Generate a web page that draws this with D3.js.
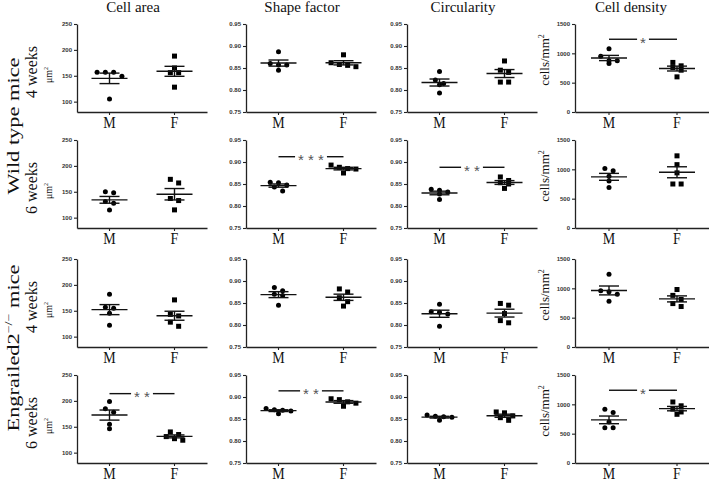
<!DOCTYPE html>
<html>
<head>
<meta charset="utf-8">
<script src="https://cdn.jsdelivr.net/npm/d3@7"></script>
<style>
body{margin:0;background:#fff}
svg{display:block;background:#fff}
</style>
</head>
<body>
<svg id="fig"></svg>
<script>
// chart data
var measures=["Cell area","Shape factor","Circularity","Cell density"]
var ages=["4 weeks","6 weeks","4 weeks","6 weeks"]
var groups=["Wild type mice","Engrailed2"]
var sexes=["M","F"]
var areaTicks=[100,150,200,250]
var ratioTicks=[0.75,0.80,0.85,0.90,0.95]
var densityTicks=[0,500,1000,1500]

// rows: WT 4 wk, WT 6 wk, En2 4 wk, En2 6 wk
var cellAreaM=[[157,157,157,149,105],[150,148,131,128,115],[182,157,155,145,122],[199,185,178,155,146]]
var cellAreaF=[[188,165,156,156,128],[174,167,137,133,115],[171,143,140,128,120],[140,135,131,127,124]]
var shapeFactorM=[[0.887,0.860,0.857,0.857,0.845],[0.854,0.853,0.848,0.843,0.834],[0.885,0.878,0.870,0.867,0.845],[0.874,0.871,0.870,0.868,0.862]]
var shapeFactorF=[[0.880,0.862,0.858,0.856,0.853],[0.893,0.888,0.885,0.884,0.875],[0.882,0.875,0.862,0.853,0.843],[0.896,0.894,0.889,0.886,0.879]]
var circularityM=[[0.842,0.823,0.815,0.812,0.793],[0.838,0.836,0.832,0.827,0.815],[0.847,0.830,0.829,0.825,0.797],[0.859,0.856,0.855,0.854,0.847]]
var circularityF=[[0.866,0.845,0.840,0.818,0.818],[0.866,0.858,0.853,0.850,0.840],[0.849,0.845,0.826,0.810,0.805],[0.866,0.864,0.857,0.853,0.847]]
var cellDensityM=[[1080,950,872,872,828],[1015,975,880,800,690],[1240,960,940,900,780],[915,860,700,600,600]]
var cellDensityF=[[845,787,759,713,599],[1230,1080,940,750,750],[980,880,810,740,690],[1040,975,920,870,830]]

var sigMarks=[
  {row:0,col:3,level:1240,stars:"*"},
  {row:1,col:1,level:0.912,stars:"***"},
  {row:1,col:2,level:0.888,stars:"**"},
  {row:3,col:0,level:214,stars:"**"},
  {row:3,col:1,level:0.914,stars:"**"},
  {row:3,col:3,level:1240,stars:"*"}
]

var seriesM=[cellAreaM,shapeFactorM,circularityM,cellDensityM]
var seriesF=[cellAreaF,shapeFactorF,circularityF,cellDensityF]
var tickSets=[areaTicks,ratioTicks,ratioTicks,densityTicks]
var domains=[[80,250],[0.75,0.95],[0.75,0.95],[0,1500]]
var formats=[d3.format("d"),d3.format(".2f"),d3.format(".2f"),d3.format("d")]

// layout
var colX=[77,246,407,575]
var colW=[130,130,130,136]
var rowTop=[24,140,259,375]
var plotH=88
var serif='"Liberation Serif","Times New Roman",serif'
var sans='"Liberation Sans",Arial,sans-serif'

var svg=d3.select("#fig").attr("width",709).attr("height",481)

// simple column scatter: spread points that overlap vertically
var swarm=function(vals,y,size)
{
    var pts=vals.map(function(v){return {v:v,py:y(v)}})
        .sort(function(a,b){return a.py-b.py})
    var clusters=[],cur=null
    pts.forEach(function(p){
        if(cur && p.py-cur[0].py<size){cur.push(p)}
        else{cur=[p];clusters.push(cur)}
    })
    clusters.forEach(function(c){
        c.forEach(function(p,j){p.dx=(j-(c.length-1)/2)*size*1.8})
    })
    return pts
}

var drawGroup=function(g,vals,cx,y,shape)
{
    var pts=swarm(vals,y,4.6)
    if(shape=="circle"){
        g.selectAll(null).data(pts).enter().append("circle")
        .attr("cx",function(p){return cx+p.dx})
        .attr("cy",function(p){return p.py})
        .attr("r",2.5)
        .attr("fill","#000")
    } else {
        g.selectAll(null).data(pts).enter().append("rect")
        .attr("x",function(p){return cx+p.dx-2.5})
        .attr("y",function(p){return p.py-2.5})
        .attr("width",5).attr("height",5)
        .attr("fill","#000")
    }
    var m=d3.mean(vals)
    var sem=d3.deviation(vals)/Math.sqrt(vals.length)
    var ln=g.append("g").attr("stroke","#111").attr("stroke-width",1.4)
    ln.append("line").attr("x1",cx-18).attr("x2",cx+18).attr("y1",y(m)).attr("y2",y(m))
    ln.append("line").attr("x1",cx).attr("x2",cx).attr("y1",y(m-sem)).attr("y2",y(m+sem))
    ln.append("line").attr("x1",cx-10).attr("x2",cx+10).attr("y1",y(m-sem)).attr("y2",y(m-sem))
    ln.append("line").attr("x1",cx-10).attr("x2",cx+10).attr("y1",y(m+sem)).attr("y2",y(m+sem))
}

for(var r=0;r<4;r++){
    for(var c=0;c<4;c++){
        var g=svg.append("g").attr("transform","translate("+colX[c]+","+rowTop[r]+")")
        var y=d3.scaleLinear().domain(domains[c]).range([plotH,0])
        var x=d3.scaleBand().domain(sexes).range([0,colW[c]])

        var ya=g.append("g")
            .call(d3.axisLeft(y).tickValues(tickSets[c]).tickFormat(formats[c])
                  .tickSize(3).tickSizeOuter(0).tickPadding(2))
        ya.select(".domain").attr("stroke","#222").attr("stroke-width",1.3)
        ya.selectAll(".tick line").attr("stroke","#222").attr("stroke-width",1.1)
        ya.selectAll("text").attr("font-family",sans).attr("font-weight","bold")
          .attr("font-size",6).attr("fill","#333")

        var xa=g.append("g").attr("transform","translate(0,"+plotH+")")
            .call(d3.axisBottom(x).tickSize(3).tickSizeOuter(0))
        xa.select(".domain").attr("stroke","#222").attr("stroke-width",1.3)
        xa.selectAll(".tick line").attr("stroke","#222").attr("stroke-width",1.1)
        // labels in the source look a bit tall, so stretch them vertically
        xa.selectAll("text").attr("font-family",serif).attr("font-size",14).attr("fill","#111")
          .attr("y",0).attr("transform","translate(0,3.4) scale(1,1.25)")

        var cxM=x("M")+x.bandwidth()/2
        var cxF=x("F")+x.bandwidth()/2
        drawGroup(g,seriesM[c][r],cxM,y,"circle")
        drawGroup(g,seriesF[c][r],cxF,y,"square")

        sigMarks.filter(function(s){return s.row==r && s.col==c}).forEach(function(s){
            var ly=y(s.level)
            var mid=(cxM+cxF)/2
            var t=g.append("text").text(s.stars.split("").join(" "))
                .attr("x",mid).attr("y",ly+8.4)
                .attr("text-anchor","middle")
                .attr("font-family",sans).attr("font-size",15).attr("fill","#555")
            var half=t.node().getComputedTextLength()/2+3
            g.append("line").attr("x1",cxM).attr("x2",mid-half).attr("y1",ly).attr("y2",ly)
                .attr("stroke","#111").attr("stroke-width",1.4)
            g.append("line").attr("x1",mid+half).attr("x2",cxF).attr("y1",ly).attr("y2",ly)
                .attr("stroke","#111").attr("stroke-width",1.4)
        })

        // unit labels
        if(c==0){
            var u=g.append("text").attr("transform","translate(-25,"+(plotH/2+7)+") rotate(-90)")
                .attr("text-anchor","middle").attr("font-family",serif).attr("font-size",10).attr("fill","#111")
            u.append("tspan").text("μm")
            u.append("tspan").text("2").attr("font-size",6).attr("dy",-4)
        }
        if(c==3){
            var u2=g.append("text").attr("transform","translate(-26,"+(plotH/2-8)+") rotate(-90)")
                .attr("text-anchor","middle").attr("font-family",serif).attr("font-size",13).attr("fill","#111")
            u2.append("tspan").text("cells/mm")
            u2.append("tspan").text("2").attr("font-size",8).attr("dy",-5)
        }
    }
    // age label
    svg.append("text").text(ages[r])
        .attr("transform","translate(37,"+(rowTop[r]+plotH/2+4)+") rotate(-90)")
        .attr("text-anchor","middle").attr("font-family",serif).attr("font-size",16).attr("fill","#111")
}

// column titles
measures.forEach(function(m,i){
    svg.append("text").text(m)
        .attr("x",colX[i]+65-9).attr("y",12)
        .attr("text-anchor","middle").attr("font-family",serif).attr("font-size",15).attr("fill","#111")
})

// group labels (stretched along the reading direction like the source)
svg.append("text").text(groups[0])
    .attr("transform","translate(19,126) rotate(-90) scale(1.4,1)")
    .attr("text-anchor","middle").attr("font-family",serif).attr("font-size",16).attr("fill","#111")
var en=svg.append("text")
    .attr("transform","translate(19,348) rotate(-90) scale(1.4,1)")
    .attr("text-anchor","middle").attr("font-family",serif).attr("font-size",16).attr("fill","#111")
en.append("tspan").text(groups[1])
en.append("tspan").text("−/−").attr("font-size",10).attr("dy",-7)
en.append("tspan").text(" mice").attr("dy",7)
</script>
</body>
</html>
